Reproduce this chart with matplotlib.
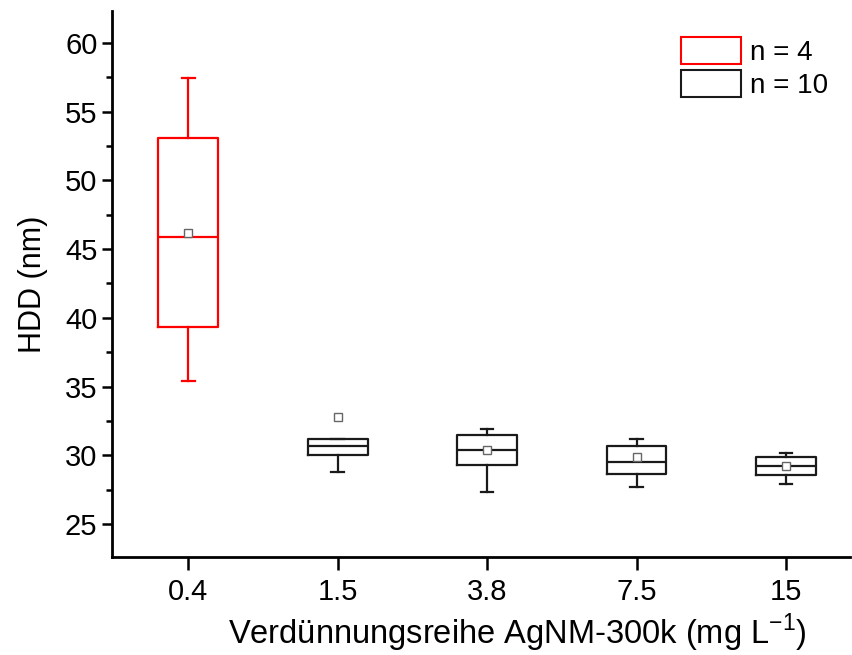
import matplotlib.pyplot as plt
from matplotlib.patches import Patch
from matplotlib.ticker import MultipleLocator

plt.rcParams['font.family'] = ['Liberation Sans', 'DejaVu Sans']

# box statistics (nm)
labels = ['0.4', '1.5', '3.8', '7.5', '15']
whis_lo = [35.4, 28.8, 27.35, 27.7, 27.9]
q1 = [39.3, 30.0, 29.3, 28.65, 28.6]
median = [45.9, 30.7, 30.35, 29.5, 29.2]
q3 = [53.1, 31.2, 31.5, 30.7, 29.9]
whis_hi = [57.45, 31.2, 31.9, 31.2, 30.2]
means = [46.2, 32.8, 30.4, 29.9, 29.25]
colors = ['#ff0000', '#1a1a1a', '#1a1a1a', '#1a1a1a', '#1a1a1a']


def make_stats():
    stats = []
    for i in range(len(labels)):
        stats.append({'whislo': whis_lo[i], 'q1': q1[i], 'med': median[i],
                      'q3': q3[i], 'whishi': whis_hi[i], 'mean': means[i],
                      'fliers': [], 'label': labels[i]})
    return stats


fig = plt.figure(figsize=(8.52, 6.55), dpi=100)
ax = fig.add_axes([0.1315, 0.1496, 0.8665, 0.8334])

stats = make_stats()
positions = list(range(1, len(labels) + 1))
for i, st in enumerate(stats):
    c = colors[i]
    ax.bxp([st], positions=[positions[i]], widths=0.4, showmeans=True,
           capwidths=0.085,
           boxprops=dict(color=c, linewidth=1.6),
           medianprops=dict(color=c, linewidth=1.6),
           whiskerprops=dict(color=c, linewidth=1.6),
           capprops=dict(color=c, linewidth=1.6),
           meanprops=dict(marker='s', markersize=6, markerfacecolor='white',
                          markeredgecolor='#666666', markeredgewidth=1.0))

ax.set_xticks(positions)
ax.set_xticklabels(labels)
ax.yaxis.set_major_locator(MultipleLocator(5))
ax.yaxis.set_minor_locator(MultipleLocator(2.5))
ax.set_xlim(0.49, 5.43)
ax.set_ylim(22.6, 62.3)

for side in ['top', 'right']:
    ax.spines[side].set_visible(False)
for side in ['left', 'bottom']:
    ax.spines[side].set_linewidth(2)

ax.tick_params(axis='both', which='major', direction='out', length=7, width=1.8,
               labelsize=21)
ax.tick_params(axis='y', which='minor', direction='out', length=4, width=1.8)
ax.tick_params(axis='x', which='major', length=9, pad=6)

ax.set_ylabel('HDD (nm)', fontsize=22, labelpad=12)
# x label placed by hand so the superscript does not push it off the figure
fig.text(0.607, 0.016, 'Verdünnungsreihe AgNM-300k (mg L$^{\\mathregular{-1}}$)',
         fontsize=23.5, ha='center', va='baseline')

handles = [Patch(facecolor='white', edgecolor='#ff0000', linewidth=1.5),
           Patch(facecolor='white', edgecolor='#1a1a1a', linewidth=1.5)]
ax.legend(handles, ['n = 4', 'n = 10'], loc='upper left',
          bbox_to_anchor=(0.771, 0.952), frameon=False, fontsize=20,
          handlelength=2.16, handleheight=1.1, handletextpad=0.3,
          labelspacing=0.15, borderaxespad=0, borderpad=0)

fig.savefig('out.png', dpi=100)
